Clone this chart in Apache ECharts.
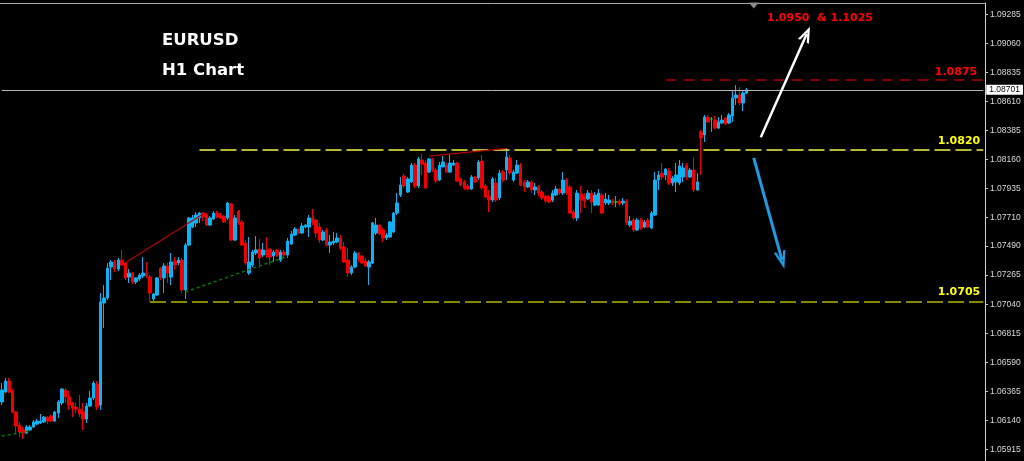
<!DOCTYPE html>
<html><head><meta charset="utf-8">
<script src="https://cdn.jsdelivr.net/npm/echarts@6/dist/echarts.min.js"></script>
<style>html,body{margin:0;padding:0;background:#000;}#c{width:1024px;height:461px;}</style>
</head><body><div id="c"></div>
<script>
// ---- data (EURUSD H1) ----
const open = [1.06282,1.06359,1.06444,1.06367,1.06204,1.06103,1.06065,1.06041,1.06065,1.06088,1.06111,1.06119,1.06127,1.06165,1.06173,1.06134,1.06196,1.06274,1.06375,1.06320,1.06274,1.06243,1.06227,1.06204,1.06150,1.06251,1.06313,1.06421,1.06258,1.07049,
1.07088,1.07328,1.07367,1.07312,1.07382,1.07359,1.07250,1.07281,1.07212,1.07235,1.07258,1.07281,1.07250,1.07080,1.07111,1.07320,1.07243,1.07336,1.07250,1.07374,
1.07359,1.07382,1.07150,1.07498,1.07638,1.07669,1.07708,1.07746,1.07731,1.07653,1.07700,1.07746,1.07731,1.07723,1.07708,1.07816,1.07537,1.07762,1.07677,1.07514,
1.07281,1.07343,1.07436,1.07467,1.07421,1.07460,1.07467,1.07413,1.07460,1.07382,1.07444,1.07421,1.07506,1.07576,1.07622,1.07591,1.07638,1.07638,1.07708,1.07692,
1.07638,1.07537,1.07615,1.07498,1.07514,1.07522,1.07553,1.07483,1.07382,1.07281,1.07328,1.07436,1.07413,1.07374,1.07328,1.07359,1.07591,1.07653,1.07615,1.07553,
1.07560,1.07599,1.07746,1.07886,1.08033,1.07909,1.07987,1.08118,1.07956,1.08157,1.08134,1.08064,1.08165,1.08080,1.08002,1.08103,1.08118,1.08064,1.08118,1.08134,
1.08010,1.07987,1.07956,1.07932,1.08025,1.08018,1.08149,1.07956,1.07878,1.07847,1.07979,1.07863,1.08064,1.08080,1.08173,1.08002,1.08056,1.08118,1.07987,1.07948,
1.07987,1.07925,1.07948,1.07909,1.07878,1.07870,1.07847,1.07886,1.07932,1.07901,1.08002,1.07948,1.07754,1.07708,1.07894,1.07878,1.07855,1.07901,1.07808,1.07808,
1.07886,1.07824,1.07824,1.07839,1.07832,1.07839,1.07824,1.07839,1.07653,1.07692,1.07615,1.07692,1.07638,1.07692,1.07630,1.07731,1.08002,1.08056,1.08041,1.08072,
1.07979,1.07987,1.07979,1.08025,1.08118,1.08025,1.08080,1.07925,1.08374,1.08351,1.08490,1.08475,1.08467,1.08405,1.08444,1.08483,1.08444,1.08498,1.08638,1.08661,
1.08599,1.08676];
const high = [1.06429,1.06468,1.06468,1.06382,1.06212,1.06127,1.06088,1.06103,1.06103,1.06142,1.06150,1.06189,1.06173,1.06173,1.06181,1.06212,1.06297,1.06390,1.06390,1.06367,1.06282,1.06274,1.06336,1.06274,1.06274,1.06367,1.06444,1.06444,1.07126,1.07188,
1.07359,1.07382,1.07382,1.07398,1.07460,1.07367,1.07312,1.07289,1.07250,1.07281,1.07405,1.07367,1.07266,1.07126,1.07250,1.07328,1.07359,1.07359,1.07436,1.07405,
1.07405,1.07398,1.07514,1.07715,1.07731,1.07754,1.07754,1.07754,1.07746,1.07723,1.07762,1.07762,1.07746,1.07731,1.07832,1.07824,1.07731,1.07770,1.07692,1.07537,
1.07560,1.07460,1.07568,1.07545,1.07514,1.07560,1.07475,1.07460,1.07467,1.07460,1.07460,1.07553,1.07607,1.07638,1.07630,1.07669,1.07661,1.07731,1.07777,1.07700,
1.07669,1.07615,1.07630,1.07576,1.07599,1.07591,1.07576,1.07522,1.07475,1.07343,1.07452,1.07444,1.07421,1.07398,1.07382,1.07677,1.07708,1.07661,1.07630,1.07591,
1.07684,1.07754,1.07901,1.08025,1.08049,1.08025,1.08134,1.08134,1.08180,1.08204,1.08157,1.08173,1.08173,1.08095,1.08142,1.08188,1.08134,1.08196,1.08157,1.08142,
1.08018,1.08002,1.07971,1.08041,1.08033,1.08157,1.08196,1.07971,1.07925,1.08025,1.08018,1.08080,1.08080,1.08250,1.08196,1.08080,1.08157,1.08134,1.08002,1.08002,
1.08002,1.07979,1.07963,1.07925,1.07886,1.07886,1.07925,1.07956,1.07940,1.08064,1.08018,1.07963,1.07770,1.07925,1.07956,1.07901,1.07925,1.07925,1.07909,1.07932,
1.07901,1.07901,1.07886,1.07855,1.07878,1.07855,1.07863,1.07855,1.07723,1.07708,1.07708,1.07708,1.07692,1.07708,1.07762,1.08064,1.08072,1.08134,1.08095,1.08095,
1.08033,1.08134,1.08157,1.08134,1.08134,1.08095,1.08180,1.08056,1.08390,1.08506,1.08506,1.08490,1.08498,1.08490,1.08506,1.08490,1.08521,1.08700,1.08738,1.08723,
1.08700,1.08715];
const low = [1.06258,1.06351,1.06351,1.06196,1.06041,1.06010,1.05995,1.06034,1.06057,1.06080,1.06103,1.06111,1.06119,1.06111,1.06127,1.06127,1.06158,1.06258,1.06274,1.06220,1.06165,1.06196,1.06165,1.06065,1.06119,1.06243,1.06297,1.06220,1.06220,1.06855,
1.07072,1.07227,1.07289,1.07297,1.07336,1.07227,1.07204,1.07196,1.07196,1.07219,1.07243,1.07243,1.07057,1.07064,1.07103,1.07227,1.07126,1.07204,1.07188,1.07305,
1.07343,1.07126,1.07080,1.07491,1.07630,1.07638,1.07669,1.07684,1.07646,1.07646,1.07692,1.07708,1.07700,1.07669,1.07692,1.07529,1.07529,1.07653,1.07491,1.07343,
1.07266,1.07328,1.07421,1.07320,1.07405,1.07398,1.07343,1.07367,1.07405,1.07367,1.07405,1.07398,1.07498,1.07568,1.07584,1.07584,1.07630,1.07560,1.07653,1.07560,
1.07514,1.07529,1.07491,1.07436,1.07498,1.07514,1.07460,1.07359,1.07250,1.07266,1.07320,1.07367,1.07351,1.07328,1.07188,1.07351,1.07576,1.07576,1.07522,1.07537,
1.07553,1.07591,1.07731,1.07870,1.07940,1.07901,1.07979,1.07940,1.07940,1.08041,1.07932,1.08056,1.08064,1.07979,1.07994,1.08103,1.08056,1.08056,1.08111,1.07987,
1.07956,1.07925,1.07925,1.07925,1.07979,1.08002,1.07925,1.07863,1.07754,1.07832,1.07832,1.07847,1.07987,1.08002,1.08041,1.07987,1.08049,1.07956,1.07909,1.07940,
1.07901,1.07886,1.07878,1.07847,1.07824,1.07824,1.07832,1.07878,1.07886,1.07886,1.07886,1.07739,1.07692,1.07684,1.07746,1.07785,1.07847,1.07746,1.07801,1.07801,
1.07739,1.07808,1.07808,1.07808,1.07793,1.07801,1.07808,1.07653,1.07638,1.07599,1.07607,1.07615,1.07630,1.07630,1.07622,1.07723,1.07925,1.08002,1.08002,1.07963,
1.07956,1.07909,1.07963,1.07987,1.08002,1.08018,1.07909,1.07917,1.08041,1.08297,1.08444,1.08374,1.08397,1.08397,1.08436,1.08428,1.08436,1.08452,1.08583,1.08583,
1.08537,1.08669];
const close = [1.06375,1.06444,1.06359,1.06204,1.06096,1.06049,1.06041,1.06088,1.06088,1.06127,1.06134,1.06134,1.06165,1.06134,1.06134,1.06204,1.06282,1.06382,1.06320,1.06258,1.06235,1.06227,1.06189,1.06150,1.06251,1.06313,1.06429,1.06243,1.07057,1.07088,
1.07320,1.07367,1.07312,1.07382,1.07343,1.07243,1.07281,1.07212,1.07243,1.07266,1.07281,1.07258,1.07126,1.07119,1.07243,1.07243,1.07336,1.07281,1.07367,1.07343,
1.07382,1.07150,1.07498,1.07708,1.07708,1.07731,1.07746,1.07715,1.07653,1.07708,1.07746,1.07715,1.07708,1.07677,1.07824,1.07537,1.07708,1.07669,1.07498,1.07359,
1.07367,1.07444,1.07460,1.07398,1.07460,1.07421,1.07405,1.07444,1.07421,1.07444,1.07421,1.07529,1.07584,1.07622,1.07591,1.07646,1.07653,1.07708,1.07669,1.07591,
1.07537,1.07599,1.07498,1.07522,1.07529,1.07553,1.07475,1.07367,1.07281,1.07328,1.07436,1.07390,1.07359,1.07336,1.07367,1.07669,1.07653,1.07584,1.07553,1.07576,
1.07677,1.07746,1.07824,1.07963,1.07956,1.08010,1.08118,1.07956,1.08165,1.08126,1.07940,1.08165,1.08080,1.07994,1.08118,1.08142,1.08064,1.08134,1.08134,1.07994,
1.07963,1.07940,1.07932,1.08025,1.07987,1.08142,1.07940,1.07870,1.07847,1.08010,1.07847,1.08056,1.08002,1.08180,1.08056,1.08064,1.08118,1.07963,1.07948,1.07987,
1.07925,1.07948,1.07901,1.07863,1.07839,1.07832,1.07901,1.07932,1.07901,1.08002,1.07901,1.07746,1.07708,1.07901,1.07847,1.07839,1.07901,1.07832,1.07886,1.07901,
1.07746,1.07855,1.07847,1.07824,1.07832,1.07816,1.07839,1.07669,1.07684,1.07615,1.07692,1.07630,1.07677,1.07638,1.07746,1.08002,1.08041,1.08025,1.08087,1.07979,
1.08018,1.08041,1.08111,1.08095,1.08025,1.08080,1.07925,1.07987,1.08328,1.08490,1.08452,1.08475,1.08405,1.08452,1.08467,1.08436,1.08506,1.08638,1.08661,1.08599,
1.08676,1.08701];
const totalSlots = 279; // bars plus the empty right margin of the chart
const categories = Array.from({ length: totalSlots }, (_, i) => (i < open.length ? 'bar ' + (i + 1) : ''));
const yTickLabels = ['1.09285','1.09060','1.08835','1.08610','1.08385','1.08160','1.07935','1.07710','1.07490','1.07265','1.07040','1.06815','1.06590','1.06365','1.06140','1.05915'];
const bidPrice = 1.08701;
const levelPrices = [1.08782, 1.08240, 1.07058];
const levelLabels = ['1.0875', '1.0820', '1.0705'];
const levelStartBar = [188, 56, 42];
const targetText = '1.0950  & 1.1025';
const redTrends = [[[35, 1.07361], [57, 1.07739]], [[121, 1.08188], [143, 1.08248]]];
const greenTrends = [[[0, 1.06018], [8, 1.06057]], [[52, 1.07134], [81, 1.07413]]];
const upArrow = [[215, 1.08333], [228, 1.09134]];
const downArrow = [[213, 1.08173], [221, 1.07382]];
const shiftMark = [213, 1.09355];

// ---- layout / style ----
const lastSlot = totalSlots - 1;
const BULL = '#0cb2f2', BEAR = '#f00000', DOJI = '#00e000';
const chevron = 'path://M0,0 L6,14 L3.6,14 L0,5.6 L-3.6,14 L-6,14 Z';

const candleData = open.map((o, i) => {
  const item = { value: [o, close[i], low[i], high[i]] };
  if (o === close[i]) item.itemStyle = { color: DOJI, color0: DOJI, borderColor: DOJI, borderColor0: DOJI, borderColorDoji: DOJI };
  return item;
});

const levelColors = ['#a80000', '#f2f240', '#b4b400'];
const levelTextColors = ['#ff0000', '#ffff00', '#ffff00'];
const levelDist = [[6, 2], [3, 3], [3, 4]];
const levelDash = [[11, 7], [16, 5], [16, 5]];

function seg(from, to, lineStyle, label, endSymbol, endSize) {
  const a = { coord: from, lineStyle: lineStyle, label: label || { show: false }, symbol: 'none' };
  const b = { coord: to, lineStyle: lineStyle, label: label || { show: false }, symbol: endSymbol || 'none' };
  if (endSize) b.symbolSize = endSize;
  return [a, b];
}

const markLines = [];
markLines.push(seg([0, bidPrice], [lastSlot, bidPrice], { color: '#b4b4b4', width: 1, type: 'solid' },
  { show: true, position: 'end', formatter: bidPrice.toFixed(5), color: '#000', backgroundColor: '#fff',
    padding: [1, 3, 0, 3], fontSize: 8.5, fontFamily: 'Liberation Sans', distance: 3 }));
levelPrices.forEach((p, k) => {
  markLines.push(seg([levelStartBar[k], p], [lastSlot, p],
    { color: levelColors[k], width: 1.5, type: levelDash[k], opacity: 1 },
    { show: true, position: 'insideEndTop', formatter: levelLabels[k], color: levelTextColors[k],
      fontFamily: 'DejaVu Sans', fontWeight: 'bold', fontSize: 11, distance: levelDist[k] }));
});
redTrends.forEach(t => markLines.push(seg(t[0], t[1], { color: '#b00000', width: 1.2, type: 'solid' })));
greenTrends.forEach(t => markLines.push(seg(t[0], t[1], { color: '#007a00', width: 1.5, type: [3, 3] })));
markLines.push(seg(upArrow[0], upArrow[1], { color: '#ffffff', width: 2.5, type: 'solid' }, null, chevron, [12, 16]));
markLines.push(seg(downArrow[0], downArrow[1], { color: '#1d9be3', width: 3, type: 'solid' }, null, chevron, [12, 18]));

const chart = echarts.init(document.getElementById('c'), null, { renderer: 'canvas' });
chart.setOption({
  backgroundColor: '#000000',
  animation: false,
  title: [
    { text: 'EURUSD\nH1 Chart', left: 162, top: 26, padding: 0,
      textStyle: { color: '#ffffff', fontFamily: 'DejaVu Sans', fontWeight: 'bold', fontSize: 16.5, lineHeight: 30 } },
    { text: targetText, left: 767, top: 12, padding: 0,
      textStyle: { color: '#ff0000', fontFamily: 'DejaVu Sans', fontWeight: 'bold', fontSize: 11, lineHeight: 13 } }
  ],
  grid: { left: 0, right: 39, top: 3, bottom: 0, containLabel: false },
  xAxis: {
    type: 'category', data: categories, position: 'top', boundaryGap: true,
    axisLine: { show: true, lineStyle: { color: '#a8a8a8', width: 1 } },
    axisTick: { show: false }, axisLabel: { show: false }, splitLine: { show: false }
  },
  yAxis: {
    type: 'value', position: 'right', min: 1.058245, max: 1.09374, scale: true,
    axisLine: { show: true, lineStyle: { color: '#d0d0d0', width: 1 } },
    axisTick: { show: true, length: 3, inside: false, customValues: yTickLabels.map(Number), lineStyle: { color: '#c8c8c8' } },
    axisLabel: { show: true, customValues: yTickLabels.map(Number), margin: 5, color: '#d8d8d8',
                 fontSize: 8.5, fontFamily: 'Liberation Sans', formatter: v => Number(v).toFixed(5) },
    splitLine: { show: false }
  },
  series: [{
    type: 'candlestick',
    data: candleData,
    barWidth: 3,
    itemStyle: { color: BULL, color0: BEAR, borderColor: BULL, borderColor0: BEAR, borderWidth: 1 },
    markLine: { silent: true, symbol: 'none', animation: false, data: markLines, emphasis: { disabled: true } },
    markPoint: { silent: true, animation: false, data: [
      { coord: shiftMark, symbol: 'triangle', symbolRotate: 180, symbolSize: [10, 6], itemStyle: { color: '#8c8c8c' }, label: { show: false } }
    ] }
  }]
});
</script></body></html>
